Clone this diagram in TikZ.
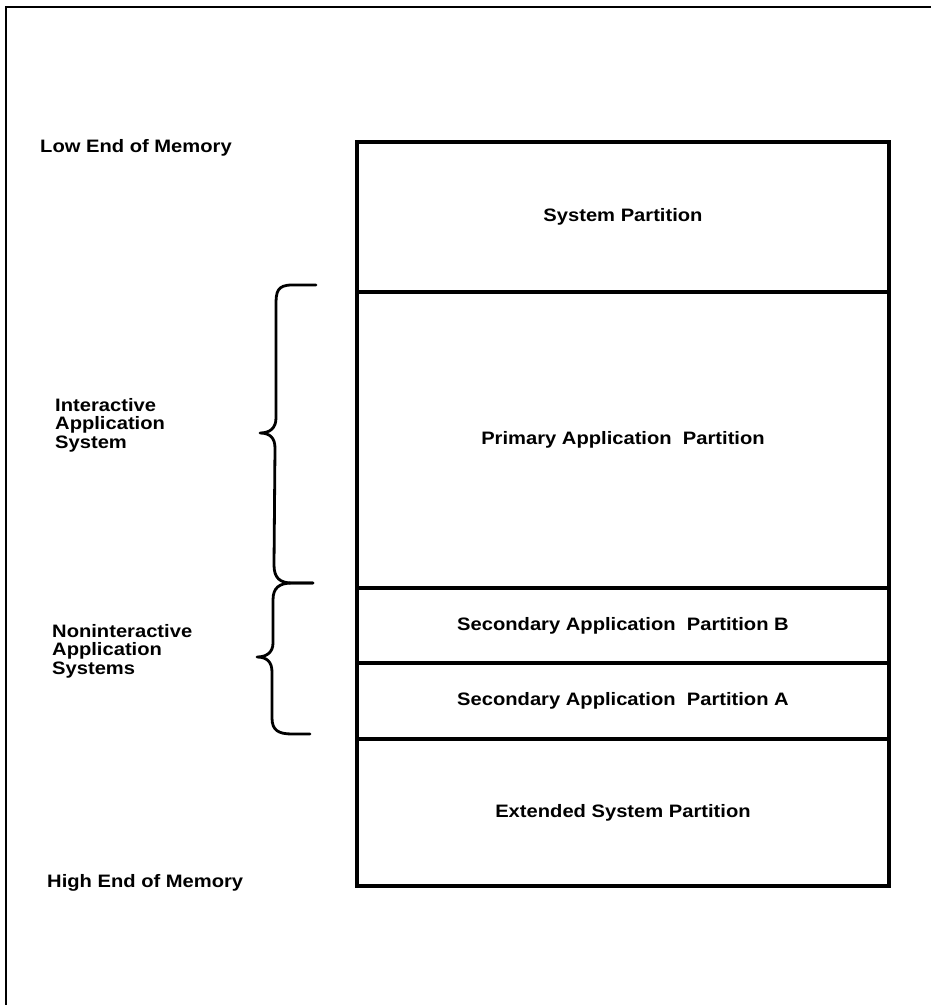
\documentclass[tikz,border=0pt]{standalone}
\usepackage{fontspec}
\setmainfont{Liberation Sans}[FakeStretch=1.12]
\begin{document}
\begin{tikzpicture}[x=1pt,y=-1pt,
  frameline/.style={line width=2.8pt},
  part/.style={draw, line width=3.4pt, rectangle, inner sep=0pt, outer sep=0pt,
    minimum width=532pt, anchor=north west,
    font=\fontsize{18}{18}\selectfont\bfseries},
  sidelabel/.style={anchor=west, inner sep=0pt, align=left,
    font=\fontsize{18}{18.5}\selectfont\bfseries},
  bracket/.style={line width=2.8pt, line cap=round, line join=round}]
\useasboundingbox (0,0) rectangle (931,1005);

% outer frame (top and left edges only)
\coordinate (fl) at (6,1005);
\coordinate (fc) at (6,7);
\coordinate (fr) at (931,7);
\draw[frameline] (fl) -- (fc) -- (fr);

% memory partitions, low end at the top
\node[part, minimum height=150pt] (sys) at (357,142) {System Partition};
\node[part, minimum height=296pt] (prim) at (sys.south west) {Primary Application\ \ Partition};
\node[part, minimum height=75pt] (secb) at (prim.south west) {Secondary Application\ \ Partition B};
\node[part, minimum height=76pt] (seca) at (secb.south west) {Secondary Application\ \ Partition A};
\node[part, minimum height=147pt] (ext) at (seca.south west) {Extended System Partition};

% end-of-memory labels
\node[sidelabel] (low) at (40,148) {Low End of Memory};
\node[sidelabel] (high) at (47,883) {High End of Memory};

% group labels
\node[sidelabel] (ias) at (55,425) {Interactive\\Application\\System};
\node[sidelabel] (nias) at (52,651) {Noninteractive\\Application\\Systems};

% braces
\coordinate (b1t) at (316,285);
\coordinate (b1m) at (260,433);
\coordinate (bj)  at (313,583);
\coordinate (b2m) at (257,657);
\coordinate (b2b) at (310,734);
\draw[bracket] (b1t) -- (292,285) .. controls (277,285) and (276,292) .. (276,305)
  -- (276,418) .. controls (276,428) and (270,433) .. (b1m)
  .. controls (270,433) and (275,438) .. (275,448)
  -- (274,565) .. controls (274,578) and (280,583) .. (292,583) -- (bj);
\draw[bracket] (bj) -- (292,583) .. controls (279,583) and (273,588) .. (273,600)
  -- (273,643) .. controls (273,652) and (267,657) .. (b2m)
  .. controls (267,657) and (272,662) .. (272,672)
  -- (272,718) .. controls (272,730) and (278,734) .. (292,734) -- (b2b);
\end{tikzpicture}
\end{document}
